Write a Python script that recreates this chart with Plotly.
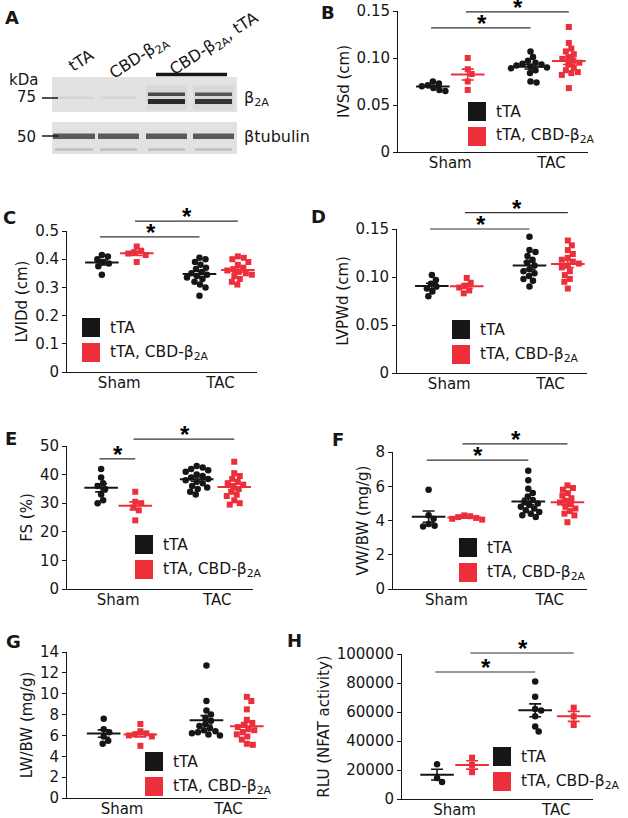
import numpy as np
import plotly.graph_objects as go

W, H = 628, 818
BLACK = "#161616"
RED = "#ec2f3b"
FONT = "DejaVu Sans"

categories = ["Sham", "TAC"]
legend_labels = ["tTA", "tTA, CBD-β<sub>2A</sub>"]

# ---------------- data ----------------
# B: IVSd (cm)
ivsd_sham_tta = [0.075, 0.073, 0.071, 0.070, 0.068, 0.066, 0.065]
ivsd_sham_cbd = [0.100, 0.088, 0.083, 0.075, 0.066]
ivsd_tac_tta = [0.107, 0.101, 0.097, 0.095, 0.094, 0.093, 0.092, 0.091, 0.090, 0.089, 0.087, 0.084, 0.075, 0.074]
ivsd_tac_cbd = [0.133, 0.116, 0.110, 0.107, 0.104, 0.101, 0.099, 0.097, 0.095, 0.093, 0.090, 0.087, 0.085, 0.084, 0.082, 0.068]
ivsd_sig = [0.132, 0.149]

# C: LVIDd (cm)
lvidd_sham_tta = [0.415, 0.410, 0.400, 0.390, 0.385, 0.375, 0.345]
lvidd_sham_cbd = [0.445, 0.430, 0.425, 0.420, 0.415, 0.390]
lvidd_tac_tta = [0.405, 0.400, 0.390, 0.380, 0.370, 0.365, 0.355, 0.350, 0.345, 0.340, 0.335, 0.330, 0.320, 0.310, 0.300, 0.270]
lvidd_tac_cbd = [0.410, 0.405, 0.400, 0.390, 0.380, 0.370, 0.365, 0.360, 0.355, 0.350, 0.345, 0.340, 0.330, 0.320, 0.310]
lvidd_sig = [0.479, 0.535]

# D: LVPWd (cm)
lvpwd_sham_tta = [0.102, 0.097, 0.093, 0.090, 0.088, 0.085, 0.080]
lvpwd_sham_cbd = [0.099, 0.094, 0.091, 0.089, 0.086, 0.083]
lvpwd_tac_tta = [0.142, 0.128, 0.126, 0.122, 0.118, 0.115, 0.112, 0.108, 0.106, 0.104, 0.101, 0.098, 0.096, 0.090]
lvpwd_tac_cbd = [0.138, 0.133, 0.128, 0.124, 0.120, 0.118, 0.116, 0.114, 0.112, 0.110, 0.106, 0.102, 0.098, 0.095, 0.088]
lvpwd_sig = [0.150, 0.167]

# E: FS (%)
fs_sham_tta = [42, 39, 37, 36, 35, 33, 31, 30]
fs_sham_cbd = [34, 30.5, 30, 28.5, 27.5, 24]
fs_tac_tta = [43, 42.5, 42, 41.5, 41, 40, 39.5, 39, 38.5, 38, 37.5, 37, 36, 35.5, 35, 34, 33]
fs_tac_cbd = [44.5, 40.5, 39.5, 38.5, 37.5, 37, 36.5, 36, 35, 34, 33, 32.5, 31, 30, 29.5]
fs_sig = [45.5, 52.4]

# F: VW/BW (mg/g)
vw_sham_tta = [5.8, 4.3, 4.1, 3.8, 3.7, 3.65]
vw_sham_cbd = [4.3, 4.25, 4.2, 4.15, 4.1, 4.05]
vw_tac_tta = [6.9, 6.35, 5.85, 5.6, 5.4, 5.2, 5.1, 5.0, 4.9, 4.8, 4.7, 4.6, 4.5, 4.4, 4.3, 4.2]
vw_tac_cbd = [6.05, 5.9, 5.8, 5.6, 5.45, 5.3, 5.15, 5.05, 4.95, 4.8, 4.7, 4.55, 4.4, 4.3, 3.9]
vw_sig = [7.53, 8.47]

# G: LW/BW (mg/g)
lw_sham_tta = [7.6, 6.6, 6.3, 5.9, 5.5, 5.2]
lw_sham_cbd = [7.1, 6.4, 6.2, 6.1, 6.0, 5.9, 5.0]
lw_tac_tta = [12.7, 9.3, 8.4, 8.0, 7.7, 7.4, 7.1, 6.9, 6.7, 6.5, 6.4, 6.3, 6.2, 6.1, 6.0]
lw_tac_cbd = [9.7, 9.3, 8.5, 7.5, 7.2, 7.0, 6.8, 6.6, 6.5, 6.3, 6.1, 5.9, 5.6, 5.2, 5.1]
lw_sig = []

# H: RLU (NFAT activity)
rlu_sham_tta = [24000, 14500, 11800]
rlu_sham_cbd = [28500, 23500, 18500]
rlu_tac_tta = [81000, 70500, 62000, 61000, 57000, 50000, 46500]
rlu_tac_cbd = [63000, 57000, 51000]
rlu_sig = [87600, 100700]

# ---------------- layout helpers ----------------
POS = [1.0, 2.0, 3.8, 4.9]
CAT_POS = [1.5, 4.4]
XR = [0, 5.45]


def fx(px):
    return px / W


def fy(py):
    return 1 - py / H


def swarm(vals, px_per_y, px_per_x, d=6.0):
    vals = np.asarray(vals, dtype=float)
    order = np.argsort(-vals, kind="stable")
    placed = []
    offs = np.zeros(len(vals))
    cands = [0.0]
    for m in range(1, 60):
        cands += [m * 0.5, -m * 0.5]
    for i in order:
        y = vals[i] * px_per_y
        for c in cands:
            if all((c - a) ** 2 + (y - b) ** 2 >= d * d for a, b in placed):
                break
        placed.append((c, y))
        offs[i] = c / px_per_x
    return offs


panels = [
    dict(letter="B", title="IVSd (cm)",
         data=[ivsd_sham_tta, ivsd_sham_cbd, ivsd_tac_tta, ivsd_tac_cbd],
         tickvals=[0, 0.05, 0.10, 0.15], ticktext=["0", "0.05", "0.10", "0.15"],
         sig=ivsd_sig, pairs=[(0, 2), (1, 3)],
         box=(398, 588, 11, 152), legend=(468, 102), letter_pos=(328, 13)),
    dict(letter="C", title="LVIDd (cm)",
         data=[lvidd_sham_tta, lvidd_sham_cbd, lvidd_tac_tta, lvidd_tac_cbd],
         tickvals=[0, 0.1, 0.2, 0.3, 0.4, 0.5], ticktext=["0", "0.1", "0.2", "0.3", "0.4", "0.5"],
         sig=lvidd_sig, pairs=[(0, 2), (1, 3)],
         box=(67, 257, 231, 372), legend=(82, 318), letter_pos=(9, 217)),
    dict(letter="D", title="LVPWd (cm)",
         data=[lvpwd_sham_tta, lvpwd_sham_cbd, lvpwd_tac_tta, lvpwd_tac_cbd],
         tickvals=[0, 0.05, 0.10, 0.15], ticktext=["0", "0.05", "0.10", "0.15"],
         sig=lvpwd_sig, pairs=[(0, 2), (1, 3)],
         box=(397, 587, 229, 373), legend=(452, 320), letter_pos=(318, 216)),
    dict(letter="E", title="FS (%)",
         data=[fs_sham_tta, fs_sham_cbd, fs_tac_tta, fs_tac_cbd],
         tickvals=[0, 10, 20, 30, 40, 50], ticktext=["0", "10", "20", "30", "40", "50"],
         sig=fs_sig, pairs=[(0, 1), (1, 3)],
         box=(67, 253, 446, 589), legend=(135, 535), letter_pos=(11, 438)),
    dict(letter="F", title="VW/BW (mg/g)",
         data=[vw_sham_tta, vw_sham_cbd, vw_tac_tta, vw_tac_cbd],
         tickvals=[0, 2, 4, 6, 8], ticktext=["0", "2", "4", "6", "8"],
         sig=vw_sig, pairs=[(0, 2), (1, 3)],
         box=(393, 587, 452, 589), legend=(459, 538), letter_pos=(338, 439)),
    dict(letter="G", title="LW/BW (mg/g)",
         data=[lw_sham_tta, lw_sham_cbd, lw_tac_tta, lw_tac_cbd],
         tickvals=[0, 2, 4, 6, 8, 10, 12, 14], ticktext=["0", "2", "4", "6", "8", "10", "12", "14"],
         sig=lw_sig, pairs=[],
         box=(67, 267, 652, 798), legend=(145, 752), letter_pos=(14, 641)),
    dict(letter="H", title="RLU (NFAT activity)",
         data=[rlu_sham_tta, rlu_sham_cbd, rlu_tac_tta, rlu_tac_cbd],
         tickvals=[0, 20000, 40000, 60000, 80000, 100000],
         ticktext=["0", "20000", "40000", "60000", "80000", "100000"],
         sig=rlu_sig, pairs=[(0, 2), (1, 3)],
         box=(402, 593, 654, 799), legend=(493, 747), letter_pos=(294, 640)),
]

fig = go.Figure()
shapes = []
annotations = []

for k, p in enumerate(panels, start=1):
    sfx = "" if k == 1 else str(k)
    xa, ya = f"x{sfx}", f"y{sfx}"
    x0, x1, yt, yb = p["box"]
    top = p["tickvals"][-1]
    px_per_y = (yb - yt) / top
    px_per_x = (x1 - x0) / (XR[1] - XR[0])
    for g, vals in enumerate(p["data"]):
        color = BLACK if g % 2 == 0 else RED
        symbol = "circle" if g % 2 == 0 else "square"
        offs = swarm(vals, px_per_y, px_per_x)
        fig.add_trace(go.Scatter(
            x=[POS[g] + o for o in offs], y=vals, mode="markers", xaxis=xa, yaxis=ya,
            marker=dict(color=color, symbol=symbol, size=6.5 if g % 2 == 0 else 6),
            showlegend=False, hoverinfo="y", cliponaxis=False))
        v = np.asarray(vals, dtype=float)
        mean = v.mean()
        sem = v.std(ddof=1) / np.sqrt(len(v))
        fig.add_trace(go.Scatter(
            x=[POS[g]], y=[mean], mode="markers", xaxis=xa, yaxis=ya,
            marker=dict(symbol="line-ew", size=24, line=dict(color=color, width=2)),
            error_y=dict(type="data", array=[sem], color=color, thickness=1.6, width=6),
            showlegend=False, hoverinfo="y", cliponaxis=False))
    # significance bars
    for (a, b), h in zip(p["pairs"], p["sig"]):
        shapes.append(dict(type="line", xref=xa, yref=f"{ya} domain",
                           x0=POS[a] - 0.05, x1=POS[b], y0=h / top, y1=h / top,
                           line=dict(color="#333333", width=1.2)))
        annotations.append(dict(xref=xa, yref=f"{ya} domain", x=(POS[a] + POS[b]) / 2,
                                y=h / top, text="<b>*</b>", showarrow=False, yanchor="bottom",
                                yshift=-11, font=dict(family="Liberation Sans", size=24, color="#000000")))
    # custom legend
    lx, ly = p["legend"]
    for j, (c, lab) in enumerate(zip([BLACK, RED], legend_labels)):
        y0 = ly + j * 25
        shapes.append(dict(type="rect", xref="paper", yref="paper",
                           x0=fx(lx), x1=fx(lx + 18), y0=fy(y0), y1=fy(y0 + 19),
                           fillcolor=c, line=dict(width=0)))
        annotations.append(dict(xref="paper", yref="paper", x=fx(lx + 26), y=fy(y0 + 9.5),
                                text=lab, showarrow=False, xanchor="left", yanchor="middle",
                                font=dict(family=FONT, size=15.5, color=BLACK)))
    # panel letter
    lpx, lpy = p["letter_pos"]
    annotations.append(dict(xref="paper", yref="paper", x=fx(lpx), y=fy(lpy), text=f"<b>{p['letter']}</b>",
                            showarrow=False, xanchor="center", yanchor="middle",
                            font=dict(family=FONT, size=18, color=BLACK)))
    axis_common = dict(showline=True, linecolor=BLACK, linewidth=1, zeroline=False,
                       showgrid=False, mirror=False, automargin=False)
    fig.layout[f"xaxis{sfx}"] = dict(
        domain=[fx(x0), fx(x1)], anchor=ya, range=XR, tickvals=CAT_POS, ticktext=categories,
        ticks="", ticklen=0, ticklabelstandoff=-3,
        tickfont=dict(family=FONT, size=15, color=BLACK), fixedrange=True,
        **axis_common)
    fig.layout[f"yaxis{sfx}"] = dict(
        domain=[fy(yb), fy(yt)], anchor=xa, range=[0, top], tickvals=p["tickvals"],
        ticktext=p["ticktext"], ticks="outside", ticklen=4, tickwidth=1, tickcolor=BLACK,
        tickfont=dict(family=FONT, size=15, color=BLACK),
        title=dict(text=p["title"], font=dict(family=FONT, size=15, color=BLACK), standoff=3),
        fixedrange=True, **axis_common)

# ---------------- Panel A: western blot (drawn) ----------------
lanes = [(55, 93), (100, 137), (148, 185), (195, 232)]
shapes.append(dict(type="rect", xref="paper", yref="paper", x0=fx(52), x1=fx(237), y0=fy(77), y1=fy(112),
                   fillcolor="#e2e2e2", line=dict(width=0), layer="below"))
shapes.append(dict(type="rect", xref="paper", yref="paper", x0=fx(52), x1=fx(237), y0=fy(122), y1=fy(154),
                   fillcolor="#e2e2e2", line=dict(width=0), layer="below"))
upper_band_colors = [("#d4d4d4", "#d8d8d8"), ("#d6d6d6", "#dadada"), ("#4a4a4a", "#2a2a2a"), ("#555555", "#333333")]
for idx, ((a, b), (c1, c2)) in enumerate(zip(lanes, upper_band_colors)):
    if idx < 2:
        shapes.append(dict(type="rect", xref="paper", yref="paper", x0=fx(a), x1=fx(b), y0=fy(96.5), y1=fy(99),
                           fillcolor=c1, line=dict(width=0)))
    else:
        shapes.append(dict(type="rect", xref="paper", yref="paper", x0=fx(a - 2), x1=fx(b + 2), y0=fy(85), y1=fy(110),
                           fillcolor="#d9d9d9", line=dict(width=0), layer="below"))
        shapes.append(dict(type="rect", xref="paper", yref="paper", x0=fx(a), x1=fx(b), y0=fy(92.5), y1=fy(96),
                           fillcolor=c1, line=dict(width=0)))
        shapes.append(dict(type="rect", xref="paper", yref="paper", x0=fx(a), x1=fx(b), y0=fy(99), y1=fy(104),
                           fillcolor=c2, line=dict(width=0)))
for a, b in lanes:
    shapes.append(dict(type="rect", xref="paper", yref="paper", x0=fx(a - 2), x1=fx(b + 2), y0=fy(133.5), y1=fy(139),
                       fillcolor="#5a5a5a", line=dict(width=0)))
    shapes.append(dict(type="rect", xref="paper", yref="paper", x0=fx(a), x1=fx(b), y0=fy(148), y1=fy(151),
                       fillcolor="#c4c4c4", line=dict(width=0)))
for yy in (98, 136):
    shapes.append(dict(type="line", xref="paper", yref="paper", x0=fx(42), x1=fx(58), y0=fy(yy), y1=fy(yy),
                       line=dict(color=BLACK, width=1.5)))
shapes.append(dict(type="line", xref="paper", yref="paper", x0=fx(156), x1=fx(227), y0=fy(74.5), y1=fy(74.5),
                   line=dict(color=BLACK, width=3.5)))

blot_text = [
    ("kDa", 23, 80, "center", 0, 15),
    ("75", 38, 97, "right", 0, 15),
    ("50", 38, 137, "right", 0, 15),
    ("β<sub>2A</sub>", 242, 99, "left", 0, 16),
    ("βtubulin", 242, 136, "left", 0, 16),
    ("tTA", 81, 60, "center", -33, 16),
    ("CBD-β<sub>2A</sub>", 139, 57, "center", -33, 16),
    ("CBD-β<sub>2A</sub>, tTA", 214, 45, "center", -33, 16),
]
for t, px, py, anc, ang, sz in blot_text:
    annotations.append(dict(xref="paper", yref="paper", x=fx(px), y=fy(py), text=t, showarrow=False,
                            xanchor=anc, yanchor="middle", textangle=ang,
                            font=dict(family=FONT, size=sz, color=BLACK)))
annotations.append(dict(xref="paper", yref="paper", x=fx(12), y=fy(17), text="<b>A</b>", showarrow=False,
                        xanchor="center", yanchor="middle", font=dict(family=FONT, size=18, color=BLACK)))

fig.update_layout(
    width=W, height=H, margin=dict(l=0, r=0, t=0, b=0, autoexpand=False),
    paper_bgcolor="white", plot_bgcolor="white",
    font=dict(family=FONT, color=BLACK),
    shapes=shapes, annotations=annotations, showlegend=False,
)

fig.write_html("out.html", config={"displayModeBar": False},
               post_script="document.body.style.margin='0px';")
